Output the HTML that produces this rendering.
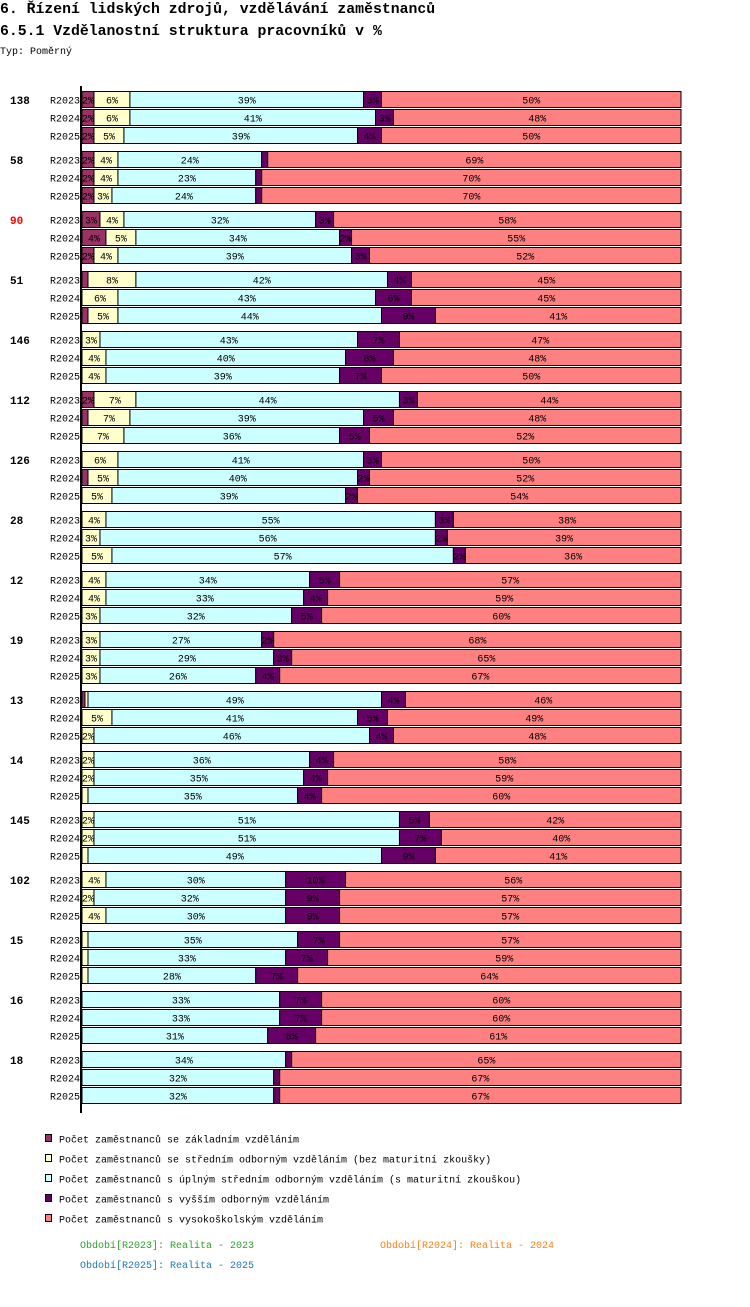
<!DOCTYPE html>
<html><head><meta charset="utf-8"><style>
body{margin:0;background:#fff;width:750px;height:1302px;overflow:hidden;font-family:"Liberation Mono",monospace}
svg text{font-family:"Liberation Mono",monospace}
</style></head><body>
<svg id="chart" width="750" height="1302" xmlns="http://www.w3.org/2000/svg">
<text x="0" y="13" font-size="14.8" font-weight="bold">6. Řízení lidských zdrojů, vzdělávání zaměstnanců</text>
<text x="0" y="35" font-size="14.8" font-weight="bold">6.5.1 Vzdělanostní struktura pracovníků v %</text>
<text x="0" y="54" font-size="10">Typ: Poměrný</text>
<g id="bars"></g>
<line x1="81" y1="86" x2="81" y2="1113" stroke="#000" stroke-width="2"/>
<g id="legend"></g>
<text x="80" y="1248" font-size="10" fill="#2ca02c">Období[R2023]: Realita - 2023</text>
<text x="380" y="1248" font-size="10" fill="#ff7f0e">Období[R2024]: Realita - 2024</text>
<text x="80" y="1268" font-size="10" fill="#1f77b4">Období[R2025]: Realita - 2025</text>
</svg>
<script>
const groups=["138","58","90","51","146","112","126","28","12","19","13","14","145","102","15","16","18"];
const periods=["R2023","R2024","R2025"];
const basic=[2,2,2, 2,2,2, 3,4,2, 1,0,1, 0,0,0, 2,1,0, 0,1,0, 0,0,0, 0,0,0, 0,0,0, 0.5,0,0, 0,0,0, 0,0,0, 0,0,0, 0,0,0, 0,0,0, 0,0,0];
const vocational=[6,6,5, 4,4,3, 4,5,4, 8,6,5, 3,4,4, 7,7,7, 6,5,5, 4,3,5, 4,4,3, 3,3,3, 0.5,5,2, 2,2,1, 2,2,1, 4,2,4, 1,1,1, 0,0,0, 0,0,0];
const secondary=[39,41,39, 24,23,24, 32,34,39, 42,43,44, 43,40,39, 44,39,36, 41,40,39, 55,56,57, 34,33,32, 27,29,26, 49,41,46, 36,35,35, 51,51,49, 30,32,30, 35,33,28, 33,33,31, 34,32,32];
const higherVoc=[3,3,4, 1,1,1, 3,2,3, 4,6,9, 7,8,7, 3,5,5, 3,2,2, 3,2,2, 5,4,5, 2,3,4, 4,5,4, 4,4,4, 5,7,9, 10,9,9, 7,7,7, 7,7,8, 1,1,1];
const university=[50,48,50, 69,70,70, 58,55,52, 45,45,41, 47,48,50, 44,48,52, 50,52,54, 38,39,36, 57,59,60, 68,65,67, 46,49,48, 58,59,60, 42,40,41, 56,57,57, 57,59,64, 60,60,61, 65,67,67];
const seriesNames=["Počet zaměstnanců se základním vzděláním","Počet zaměstnanců se středním odborným vzděláním (bez maturitní zkoušky)","Počet zaměstnanců s úplným středním odborným vzděláním (s maturitní zkouškou)","Počet zaměstnanců s vyšším odborným vzděláním","Počet zaměstnanců s vysokoškolským vzděláním"];
const colors=["#993366","#ffffcc","#ccffff","#660066","#ff8080"];
const NS="http://www.w3.org/2000/svg";
const X0=82,W=599;
const xScale=v=>v*W;
const rowY=(g,p)=>91+g*60+p*18;
function mk(t,a){const e=document.createElementNS(NS,t);for(const k in a)e.setAttribute(k,a[k]);return e;}
const bars=document.getElementById('bars');
const series=[basic,vocational,secondary,higherVoc,university];
groups.forEach((gname,g)=>{
  const gl=mk('text',{x:10,y:rowY(g,0)+13,'font-size':11,'font-weight':'bold',fill:gname==="90"?"#ff0000":"#000"});
  
  
  gl.textContent=gname;bars.appendChild(gl);
  periods.forEach((p,pi)=>{
    const i=g*3+pi,y=rowY(g,pi);
    const pl=mk('text',{x:80,y:y+12.5,'font-size':10,'text-anchor':'end'});
    
    
    pl.textContent=p;bars.appendChild(pl);
    const vals=series.map(s=>s[i]);const tot=vals.reduce((a,b)=>a+b,0);
    let x=X0;
    vals.forEach((v,si)=>{
      if(v<=0)return;
      const w=xScale(v/tot);
      const r=mk('rect',{x:x,y:y+0.5,width:w,height:16,fill:colors[si],stroke:'#000','stroke-width':1});
      
      
      bars.appendChild(r);
      if(w>=6){
        const cid='c'+i+'_'+si;
        const cp=mk('clipPath',{id:cid});cp.appendChild(mk('rect',{x:x,y:y,width:w,height:17}));bars.appendChild(cp);
        const t=mk('text',{x:x+w/2,y:y+12.5,'font-size':10,'text-anchor':'middle','clip-path':'url(#'+cid+')',fill:'#000'});
        
        
        t.textContent=Math.round(v)+'%';bars.appendChild(t);
      }
      x+=w;
    });
  });
});
const lg=document.getElementById('legend');
seriesNames.forEach((n,i)=>{
  const y=1134+i*20;
  const s=mk('rect',{x:45.5,y:y+0.5,width:6,height:7,fill:colors[i],stroke:'#000','stroke-width':1});
  
  
  lg.appendChild(s);
  const t=mk('text',{x:59,y:y+8.5,'font-size':10});
  
  
  t.textContent=n;lg.appendChild(t);
});
</script>
</body></html>
